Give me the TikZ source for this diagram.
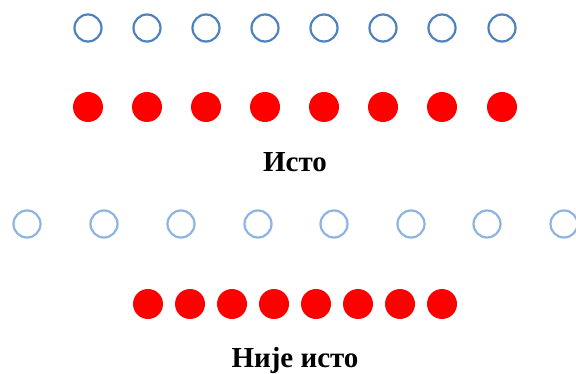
\documentclass[tikz,border=0pt]{standalone}
\usepackage{fontspec}
\setmainfont{Liberation Serif}
\definecolor{ringblue}{RGB}{79,129,189}
\definecolor{lightblue}{RGB}{141,179,226}
\begin{document}
\begin{tikzpicture}[x=1pt,y=-1pt,
  ring/.style={circle,draw=ringblue,line width=2.2pt,minimum size=27pt,inner sep=0pt},
  lring/.style={circle,draw=lightblue,line width=2.2pt,minimum size=27pt,inner sep=0pt},
  dot/.style={circle,fill=red,minimum size=30pt,inner sep=0pt},
  lbl/.style={font=\bfseries\fontsize{29}{34}\selectfont,anchor=base,inner sep=0pt}]
\useasboundingbox (0,0) rectangle (576,374);
\foreach \i/\x in {1/88,2/147,3/206,4/265,5/324,6/383,7/442,8/502}{
  \node[ring] (a\i) at (\x,28) {};
  \node[dot] (b\i) at (\x,107) {};
}
\node[lbl] (t1) at (295,172) {Исто};
\foreach \i/\x in {1/27,2/104,3/181,4/258,5/334,6/411,7/487,8/564}{
  \node[lring] (c\i) at (\x,224) {};
}
\foreach \i/\x in {1/148,2/190,3/232,4/274,5/316,6/358,7/400,8/442}{
  \node[dot] (d\i) at (\x,304) {};
}
\node[lbl] (t2) at (295,367) {Није исто};
\end{tikzpicture}
\end{document}
